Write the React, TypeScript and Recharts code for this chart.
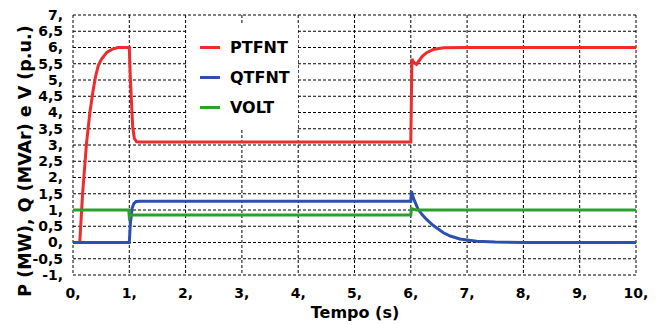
import { LineChart, Line, XAxis, YAxis, CartesianGrid, Label } from "recharts";

// P (MW) - PTFNT
const pTime = [0, 0.12, 0.17, 0.24, 0.3, 0.35, 0.4, 0.45, 0.51, 0.6, 0.7, 0.8, 1.0, 1.02, 1.06, 1.09, 1.13, 1.2, 6.0, 6.02, 6.05, 6.1, 6.15, 6.2, 6.28, 6.4, 6.58, 7.0, 10];
const pValues = [0, 0, 1.5, 3.05, 4.0, 4.6, 5.1, 5.45, 5.65, 5.85, 5.95, 6.0, 6.0, 5.0, 3.56, 3.2, 3.1, 3.09, 3.09, 5.65, 5.55, 5.48, 5.6, 5.72, 5.84, 5.94, 5.99, 6.0, 6.0];

// Q (MVAr) - QTFNT
const qTime = [0, 1.0, 1.02, 1.05, 1.08, 1.12, 1.2, 6.0, 6.01, 6.05, 6.13, 6.2, 6.28, 6.4, 6.58, 6.7, 6.87, 7.0, 7.17, 7.5, 8.0, 10];
const qValues = [0, 0, 0.6, 1.05, 1.2, 1.26, 1.27, 1.27, 1.58, 1.35, 1.02, 0.86, 0.71, 0.52, 0.3, 0.2, 0.11, 0.08, 0.04, 0.015, 0, 0];

// V (p.u.) - VOLT
const vTime = [0, 0.99, 1.0, 1.03, 6.0, 6.01, 6.1, 10];
const vValues = [1.0, 1.0, 0.78, 0.85, 0.85, 1.04, 1.0, 1.0];

const xTicks = [0, 1, 2, 3, 4, 5, 6, 7, 8, 9, 10];
const yTicks = [-1, -0.5, 0, 0.5, 1, 1.5, 2, 2.5, 3, 3.5, 4, 4.5, 5, 5.5, 6, 6.5, 7];

const SERIES = [
  { name: "PTFNT", color: "#ee2c2c", time: pTime, values: pValues },
  { name: "QTFNT", color: "#2d50b0", time: qTime, values: qValues },
  { name: "VOLT", color: "#2ca02c", time: vTime, values: vValues },
];

const FONT = "'DejaVu Sans', Verdana, sans-serif";
const tickStyle = { fill: "#000", fontSize: 14, fontWeight: "bold", fontFamily: FONT };

const fmt = (v: number) => (Number.isInteger(v) ? `${v},` : String(v).replace(".", ","));

function LegendBox() {
  return (
    <div
      style={{
        position: "absolute",
        left: 188,
        top: 25,
        width: 110,
        height: 105,
        background: "#fff",
        fontFamily: FONT,
        fontWeight: "bold",
        fontSize: 16,
      }}
    >
      {SERIES.map((s, i) => (
        <div key={s.name} style={{ position: "absolute", left: 12, top: 12 + i * 30, display: "flex", alignItems: "center", height: 20 }}>
          <span style={{ display: "inline-block", width: 20, height: 3, background: s.color, marginRight: 10 }} />
          <span>{s.name}</span>
        </div>
      ))}
    </div>
  );
}

export default function App() {
  return (
    <div style={{ position: "absolute", left: 0, top: 0, width: 663, height: 325, background: "#fff" }}>
      <LineChart width={663} height={325} margin={{ top: 15, right: 27, left: 0, bottom: 0 }}>
        <CartesianGrid stroke="#000" strokeDasharray="3 2" strokeWidth={1} horizontalValues={yTicks} verticalValues={xTicks} />
        <XAxis
          dataKey="t"
          type="number"
          domain={[0, 10]}
          ticks={xTicks}
          tickFormatter={fmt}
          axisLine={false}
          tickLine={false}
          tickMargin={7}
          height={50}
          tick={tickStyle}
        >
          <Label
            content={() => (
              <text x={355} y={318} textAnchor="middle" style={{ fill: "#000", fontSize: 16, fontWeight: "bold", fontFamily: FONT }}>
                Tempo (s)
              </text>
            )}
          />
        </XAxis>
        <YAxis
          type="number"
          domain={[-1, 7]}
          ticks={yTicks}
          tickFormatter={fmt}
          axisLine={false}
          tickLine={false}
          tickMargin={4}
          width={73}
          interval={0}
          tick={tickStyle}
        >
          <Label
            content={() => (
              <text
                transform="translate(31,161) rotate(-90)"
                textAnchor="middle"
                style={{ fill: "#000", fontSize: 17.5, fontWeight: "bold", fontFamily: FONT }}
              >
                P (MW),  Q (MVAr) e V (p.u.)
              </text>
            )}
          />
        </YAxis>
        {SERIES.map((s) => (
          <Line
            key={s.name}
            name={s.name}
            data={s.time.map((t, i) => ({ t, y: s.values[i] }))}
            dataKey="y"
            type="linear"
            stroke={s.color}
            strokeWidth={3}
            dot={false}
            isAnimationActive={false}
          />
        ))}
      </LineChart>
      <LegendBox />
    </div>
  );
}
